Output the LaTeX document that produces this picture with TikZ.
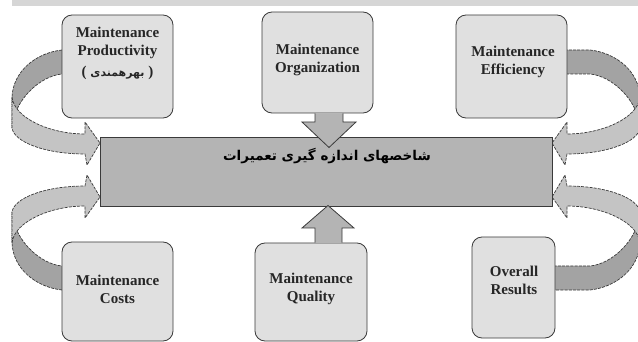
\documentclass[tikz,border=0pt]{standalone}
\usepackage{fontspec}
\setmainfont{Liberation Serif}
\newfontfamily\arabicfont[Script=Arabic]{DejaVu Sans}
\TeXXeTstate=1
\usetikzlibrary{calc}
\definecolor{boxfill}{HTML}{E0E0E0}
\definecolor{mainfill}{HTML}{B4B4B4}
\definecolor{backfill}{HTML}{A3A3A3}
\definecolor{frontfill}{HTML}{C4C4C4}
\definecolor{edge}{HTML}{3A3A3A}
\definecolor{bandgray}{HTML}{D6D6D6}
\tikzset{
  ibox/.style={draw=edge, line width=0.8pt, fill=boxfill, rounded corners=10pt, inner sep=0pt},
  lbl/.style={font=\fontsize{15}{18}\selectfont\bfseries, text=black!85, align=center, inner sep=0pt},
  ribbonline/.style={draw=edge, line width=0.7pt, dash pattern=on 3pt off 1.2pt},
  blockline/.style={draw=edge, line width=0.8pt, fill=mainfill},
}
\newcommand\ribbonshape{%
  \path[ribbonline, fill=backfill] (100,50) -- (62,50) .. controls (35,53) and (13,72) .. (12,97)
    -- (12,128) .. controls (14,100) and (40,76) .. (62,74) -- (100,74) -- cycle;
  \path[ribbonline, fill=frontfill] (12,97) .. controls (14,118) and (50,134) .. (85,134)
    -- (85,122) -- (100,143) -- (87,165) -- (85,154) .. controls (45,154) and (14,142) .. (12,128) -- cycle;
}
\begin{document}
\begin{tikzpicture}[x=1pt,y=-1pt]
\useasboundingbox (0,0) rectangle (638,342);
\clip (0,0) rectangle (638,342);
\fill[bandgray] (12,0) rectangle (638,6);
% curved ribbon arrows
\ribbonshape
\begin{scope}[shift={(0,340)}, yscale=-1] \ribbonshape \end{scope}
\begin{scope}[shift={(652,0)}, xscale=-1] \ribbonshape \end{scope}
\begin{scope}[shift={(652,340)}, xscale=-1, yscale=-1] \ribbonshape \end{scope}
% central rectangle
\node[draw=edge, line width=1pt, fill=mainfill, minimum width=452pt, minimum height=69pt, inner sep=0pt] (main) at (326,172.5) {};
% boxes
\node[ibox, minimum width=111pt, minimum height=103pt] (b1) at (117.5,66.5) {};
\node[ibox, minimum width=111pt, minimum height=101pt] (b2) at (317.5,62.5) {};
\node[ibox, minimum width=111pt, minimum height=103pt] (b3) at (511.5,66.5) {};
\node[ibox, minimum width=111pt, minimum height=99pt] (b4) at (117.5,291.5) {};
\node[ibox, minimum width=112pt, minimum height=98pt] (b5) at (311,292) {};
\node[ibox, minimum width=83pt, minimum height=101pt] (b6) at (513.5,287.5) {};
% block arrows
\path[blockline] (315,0 |- b2.south) -- (315,122) -- (302,122) -- ($(main.north)+(3,10)$)
  -- (356,122) -- (343,122) -- (343,0 |- b2.south);
\path[blockline] (315,0 |- b5.north) -- (315,228) -- (302,228) -- ($(main.south)+(2,-2)$)
  -- (354,228) -- (342,228) -- (342,0 |- b5.north);
% texts
\node (maintxt) at (327,156) {\arabicfont\bfseries\fontsize{13.5}{16}\selectfont\beginR شاخصهای اندازه گیری تعمیرات\endR};
\node[lbl] (t1) at (117.5,53) {Maintenance\\Productivity\\[3pt]( {\arabicfont\fontsize{11}{13}\selectfont\beginR بهرهمندی\endR} )};
\node[lbl] (t2) at (317.5,60) {Maintenance\\Organization};
\node[lbl] (t3) at (513,62) {Maintenance\\Efficiency};
\node[lbl] (t4) at (117.5,289) {Maintenance\\Costs};
\node[lbl] (t5) at (311,289) {Maintenance\\Quality};
\node[lbl] (t6) at (514,280) {Overall\\Results};
\end{tikzpicture}
\end{document}
